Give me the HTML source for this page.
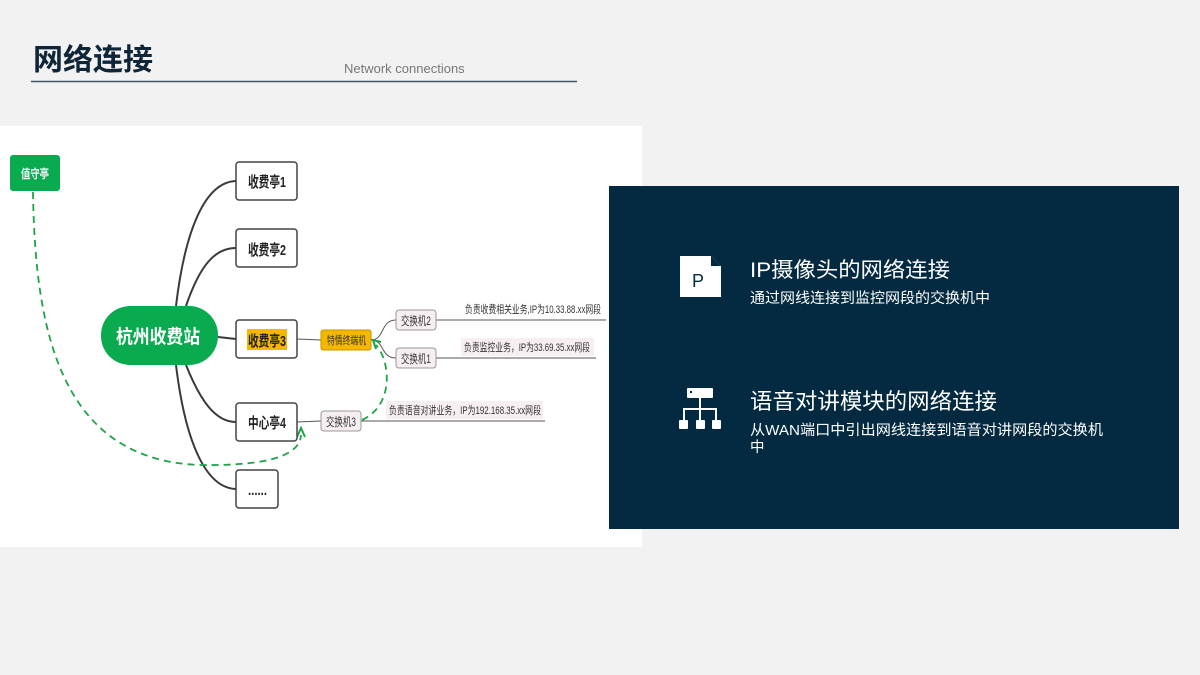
<!DOCTYPE html>
<html><head><meta charset="utf-8"><style>
html,body{margin:0;padding:0;}
body{width:1200px;height:675px;background:#f2f2f2;position:relative;overflow:hidden;font-family:"Liberation Sans","Noto Sans CJK SC",sans-serif;}
svg text{font-family:"Liberation Sans","Noto Sans CJK SC",sans-serif;}
</style></head><body>
<svg width="1200" height="675" viewBox="0 0 1200 675" xmlns="http://www.w3.org/2000/svg" style="position:absolute;left:0;top:0">
<text x="33" y="70" font-size="30" font-weight="bold" fill="#0f2638">网络连接</text>
<text x="344" y="73" font-size="13" fill="#777">Network connections</text>
<line x1="31" y1="81.5" x2="577" y2="81.5" stroke="#3f5566" stroke-width="1.5"/>
<rect x="0" y="126" width="642" height="421" fill="#fff"/>
<g fill="none" stroke="#3a3a3a" stroke-width="2">
<path d="M176 306 C185 230 205 182 236 181"/>
<path d="M186 306 C200 265 215 248 236 248"/>
<path d="M218 337 L236 339"/>
<path d="M186 365 C200 400 215 422 236 422"/>
<path d="M176 365 C185 440 205 488 236 489"/>
</g>
<g fill="none" stroke="#555" stroke-width="1">
<path d="M297 339 L321 340"/>
<path d="M371 340 C385 340 380 320 396 320"/>
<path d="M371 340 C385 340 380 358 396 358"/>
<path d="M436 320 L606 320"/>
<path d="M436 358 L596 358"/>
<path d="M297 422 L321 421"/>
<path d="M361 421 L545 421"/>
</g>
<g fill="none" stroke="#1fa34a" stroke-width="1.8" stroke-dasharray="7,5">
<path d="M33 192 C35 330 60 460 200 465 C270 466 300 455 301 435"/>
<path d="M362 420 C395 405 390 360 376 345"/>
</g>
<path d="M297 437 L301 428 L305 437" fill="none" stroke="#1fa34a" stroke-width="2"/>
<path d="M381 342 L373 340 L376 349" fill="none" stroke="#1fa34a" stroke-width="2"/>
<rect x="10" y="155" width="50" height="36" rx="3" fill="#0aab4f"/>
<text x="21" y="178" font-size="12" font-weight="bold" fill="#fff" textLength="28" lengthAdjust="spacingAndGlyphs">值守亭</text>
<rect x="101" y="306" width="117" height="59" rx="29" fill="#0aab4f"/>
<text x="116" y="343" font-size="19" font-weight="bold" fill="#fff" textLength="84" lengthAdjust="spacingAndGlyphs">杭州收费站</text>
<g fill="#fff" stroke="#444" stroke-width="1.5">
<rect x="236" y="162" width="61" height="38" rx="3"/>
<rect x="236" y="229" width="61" height="38" rx="3"/>
<rect x="236" y="320" width="61" height="38" rx="3"/>
<rect x="236" y="403" width="61" height="38" rx="3"/>
<rect x="236" y="470" width="42" height="38" rx="3"/>
</g>
<rect x="247" y="329" width="40" height="21" fill="#f5b800"/>
<g font-size="15" font-weight="bold" fill="#222">
<text x="248" y="187" textLength="38" lengthAdjust="spacingAndGlyphs">收费亭1</text>
<text x="248" y="255" textLength="38" lengthAdjust="spacingAndGlyphs">收费亭2</text>
<text x="248" y="346" textLength="38" lengthAdjust="spacingAndGlyphs">收费亭3</text>
<text x="248" y="428" textLength="38" lengthAdjust="spacingAndGlyphs">中心亭4</text>
<text x="248" y="495" textLength="19" lengthAdjust="spacingAndGlyphs">......</text>
</g>
<rect x="321" y="330" width="50" height="20" rx="2" fill="#f5b800" stroke="#c99400"/>
<text x="327" y="344" font-size="11" fill="#333" textLength="39" lengthAdjust="spacingAndGlyphs">特情终端机</text>
<g fill="#f7eef2" stroke="#999" stroke-width="1">
<rect x="396" y="310" width="40" height="20" rx="3"/>
<rect x="396" y="348" width="40" height="20" rx="3"/>
<rect x="321" y="411" width="40" height="20" rx="3"/>
</g>
<g font-size="12" fill="#333">
<text x="401" y="325" textLength="30" lengthAdjust="spacingAndGlyphs">交换机2</text>
<text x="401" y="363" textLength="30" lengthAdjust="spacingAndGlyphs">交换机1</text>
<text x="326" y="426" textLength="30" lengthAdjust="spacingAndGlyphs">交换机3</text>
</g>
<rect x="461" y="338" width="133" height="18" fill="#f7eef2"/>
<rect x="386" y="401" width="157" height="18" fill="#f7eef2"/>
<g font-size="11" fill="#333">
<text x="465" y="313" textLength="136" lengthAdjust="spacingAndGlyphs">负责收费相关业务,IP为10.33.88.xx网段</text>
<text x="464" y="351" textLength="126" lengthAdjust="spacingAndGlyphs">负责监控业务，IP为33.69.35.xx网段</text>
<text x="389" y="414" textLength="152" lengthAdjust="spacingAndGlyphs">负责语音对讲业务，IP为192.168.35.xx网段</text>
</g>
<rect x="609" y="186" width="570" height="343" fill="#032a40"/>
<path d="M680 256 L711 256 L721 266 L721 297 L680 297 Z" fill="#fff"/>
<path d="M711 256 L711 266 L721 266" fill="#032a40"/>
<text x="692" y="287" font-size="18" fill="#032a40">P</text>
<text x="750" y="277" font-size="21" fill="#fff" textLength="200" lengthAdjust="spacingAndGlyphs">IP摄像头的网络连接</text>
<text x="750" y="303" font-size="14.5" fill="#fff" textLength="240" lengthAdjust="spacingAndGlyphs">通过网线连接到监控网段的交换机中</text>
<rect x="687" y="388" width="26" height="10" rx="1" fill="#fff"/>
<rect x="690" y="391" width="2" height="2" fill="#032a40"/>
<g stroke="#fff" stroke-width="2" fill="none">
<path d="M700 398 V420 M684 420 V409 H716 V420"/>
</g>
<rect x="679" y="420" width="9" height="9" rx="1" fill="#fff"/>
<rect x="696" y="420" width="9" height="9" rx="1" fill="#fff"/>
<rect x="712" y="420" width="9" height="9" rx="1" fill="#fff"/>
<text x="750" y="409" font-size="22" fill="#fff" textLength="247" lengthAdjust="spacingAndGlyphs">语音对讲模块的网络连接</text>
<text x="750" y="435" font-size="14.5" fill="#fff" textLength="353" lengthAdjust="spacingAndGlyphs">从WAN端口中引出网线连接到语音对讲网段的交换机</text>
<text x="750" y="452" font-size="14.5" fill="#fff">中</text>
</svg>
</body></html>
